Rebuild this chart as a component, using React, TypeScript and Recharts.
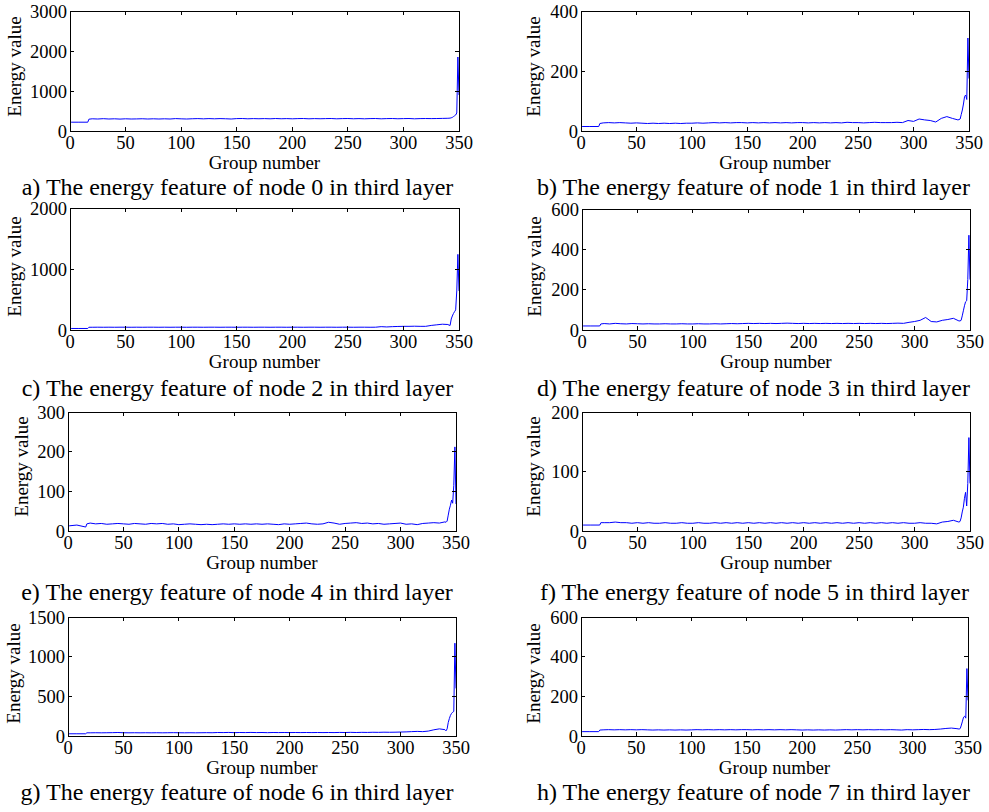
import { LineChart, Line, XAxis, YAxis, ReferenceArea } from 'recharts';

// group numbers sampled along the curves (denser at the tail spike)
const groups = [
  1, 8, 16, 17,
  20, 25, 30, 35, 40, 45, 50, 55, 60, 65, 70, 75, 80,
  85, 90, 95, 100, 105, 110, 115, 120, 125, 130, 135, 140, 145,
  150, 155, 160, 165, 170, 175, 180, 185, 190, 195, 200, 205, 210,
  215, 220, 225, 230, 235, 240, 245, 250, 255, 260, 265, 270, 275,
  280, 285, 290, 295, 300, 305, 310, 315, 320, 325, 330, 335, 340,
  341, 342, 343, 344, 345, 346, 347, 348, 349, 350,
];
const xTicks = [0, 50, 100, 150, 200, 250, 300, 350];

const node0 = [
  220, 220, 220, 295,
  305, 300, 308, 300, 305, 298, 305, 300, 302, 306, 300, 305, 300,
  305, 300, 310, 304, 300, 306, 310, 304, 310, 305, 310, 306, 300,
  310, 312, 305, 310, 306, 310, 305, 312, 306, 310, 305, 310, 312,
  305, 310, 306, 310, 312, 305, 310, 312, 306, 310, 305, 310, 312,
  305, 310, 312, 306, 310, 312, 305, 310, 312, 310, 312, 315, 318,
  320, 322, 330, 340, 360, 380, 400, 450, 1850, 900,
];
const node1 = [
  15, 15, 15, 25,
  27, 28, 27, 28, 27, 26, 27, 26, 25, 26, 25, 26, 25,
  26, 25, 26, 26, 27, 26, 27, 28, 27, 28, 27, 28, 28,
  27, 28, 27, 28, 27, 28, 27, 28, 27, 28, 28, 27, 28,
  27, 28, 27, 28, 27, 29, 28, 28, 27, 28, 29, 28, 28,
  28, 29, 28, 35, 32, 40, 37, 35, 30, 42, 48, 42, 37,
  38, 40, 55, 70, 90, 115, 120, 105, 310, 175,
];
const node2 = [
  25, 25, 25, 45,
  45, 46, 45, 46, 45, 46, 46, 45, 46, 45, 46, 46, 45,
  46, 45, 46, 46, 45, 46, 46, 45, 46, 46, 45, 46, 46,
  45, 46, 46, 45, 46, 46, 45, 46, 46, 45, 46, 46, 45,
  46, 46, 45, 46, 46, 45, 46, 46, 45, 46, 46, 45, 46,
  55, 50, 55, 58, 60, 60, 62, 60, 60, 75, 85, 95, 90,
  80, 75, 180, 230, 270, 300, 330, 640, 1240, 640,
];
const node3 = [
  20, 20, 20, 30,
  32, 30, 33, 31, 30, 32, 31, 30, 31, 30, 30, 31, 30,
  30, 31, 30, 30, 31, 30, 30, 31, 30, 31, 32, 31, 32,
  33, 32, 33, 32, 33, 32, 33, 34, 33, 32, 33, 32, 33,
  32, 33, 32, 33, 32, 33, 32, 33, 32, 33, 32, 33, 32,
  33, 34, 33, 38, 42, 48, 62, 42, 40, 48, 52, 58, 45,
  45, 48, 70, 95, 120, 140, 145, 250, 470, 250,
];
const node4 = [
  13, 15, 10, 18,
  20, 18, 19, 17, 18, 19, 18, 17, 19, 18, 17, 19, 18,
  19, 17, 18, 16, 17, 18, 17, 16, 17, 16, 17, 18, 17,
  18, 17, 18, 17, 18, 17, 18, 17, 16, 18, 17, 18, 19,
  20, 18, 17, 18, 22, 20, 17, 19, 20, 21, 19, 20, 18,
  19, 17, 18, 19, 20, 17, 18, 16, 19, 20, 21, 20, 23,
  22, 25, 40, 55, 65, 78, 70, 115, 212, 68,
];
const node5 = [
  10, 10, 10, 14,
  14, 14, 15, 14, 14, 13, 14, 13, 14, 13, 13, 14, 13,
  13, 14, 13, 13, 14, 13, 13, 14, 13, 14, 13, 14, 13,
  14, 13, 14, 13, 14, 13, 14, 13, 14, 13, 14, 13, 14,
  13, 14, 13, 14, 13, 14, 13, 14, 13, 14, 13, 14, 13,
  14, 13, 14, 13, 13, 14, 13, 13, 12, 15, 16, 18, 15,
  16, 22, 32, 40, 55, 65, 42, 80, 157, 80,
];
const node6 = [
  28, 28, 28, 40,
  40, 41, 40, 41, 42, 44, 41, 40, 41, 40, 41, 40, 41,
  40, 41, 42, 41, 40, 41, 40, 41, 42, 41, 44, 43, 45,
  42, 44, 43, 45, 43, 44, 42, 44, 43, 44, 43, 44, 43,
  44, 43, 44, 43, 44, 43, 45, 44, 46, 44, 46, 45, 47,
  46, 48, 47, 48, 50, 52, 55, 58, 55, 62, 78, 90, 80,
  65, 90, 170, 220, 260, 285, 300, 310, 1170, 600,
];
const node7 = [
  22, 22, 22, 30,
  31, 32, 31, 32, 31, 32, 31, 32, 31, 30, 31, 30, 31,
  30, 31, 30, 31, 32, 31, 32, 31, 32, 31, 32, 31, 32,
  32, 31, 32, 31, 32, 31, 32, 31, 32, 31, 30, 31, 30,
  31, 30, 31, 30, 31, 32, 31, 32, 31, 32, 31, 32, 31,
  32, 31, 30, 32, 31, 32, 33, 32, 33, 35, 38, 40, 37,
  36, 35, 38, 55, 75, 95, 100, 90, 340, 180,
];

const captions = [
  'a) The energy feature of node 0 in third layer',
  'b) The energy feature of node 1 in third layer',
  'c) The energy feature of node 2 in third layer',
  'd) The energy feature of node 3 in third layer',
  'e) The energy feature of node 4 in third layer',
  'f) The energy feature of node 5 in third layer',
  'g) The energy feature of node 6 in third layer',
  'h) The energy feature of node 7 in third layer',
];

const FONT = '"Liberation Serif", "Times New Roman", serif';
const PAD_L = 70;
const PAD_T = 12;
const PAD_R = 20;
const PAD_B = 30;

// plot box [left, top, right, bottom], caption centre/baseline, y-label centre
const panels = [
  { values: node0, yMax: 3000, yTicks: [0, 1000, 2000, 3000], box: [70, 11, 459, 131], capX: 237.5, capBase: 195, labX: 14, labY: 66.5 },
  { values: node1, yMax: 400, yTicks: [0, 200, 400], box: [581, 11, 969, 131], capX: 753.5, capBase: 195, labX: 532.5, labY: 66.5 },
  { values: node2, yMax: 2000, yTicks: [0, 1000, 2000], box: [70, 208, 459, 330], capX: 237.5, capBase: 396, labX: 14, labY: 266.5 },
  { values: node3, yMax: 600, yTicks: [0, 200, 400, 600], box: [582, 209, 970, 330], capX: 753.5, capBase: 396, labX: 533.5, labY: 266.5 },
  { values: node4, yMax: 300, yTicks: [0, 100, 200, 300], box: [68, 412, 456, 531], capX: 237, capBase: 600, labX: 20.5, labY: 466.5 },
  { values: node5, yMax: 200, yTicks: [0, 100, 200], box: [582, 412, 970, 531], capX: 754.5, capBase: 600, labX: 532.5, labY: 466.5 },
  { values: node6, yMax: 1500, yTicks: [0, 500, 1000, 1500], box: [68, 617, 456, 736], capX: 237, capBase: 800, labX: 12.5, labY: 673 },
  { values: node7, yMax: 600, yTicks: [0, 200, 400, 600], box: [581, 617, 968, 736], capX: 753.5, capBase: 800, labX: 532.5, labY: 673 },
];

function Panel({ p, caption }: { p: (typeof panels)[number]; caption: string }) {
  const [l, t, r, b] = p.box;
  const pw = r - l;
  const ph = b - t;
  const top = PAD_T;
  const bottom = PAD_T + ph;
  const left = PAD_L;
  const right = PAD_L + pw;
  const rows = groups.map((g, i) => ({ g, v: p.values[i] }));

  const xTick = (props: any) => {
    const { x, y, payload } = props;
    return (
      <g>
        <line x1={x} x2={x} y1={bottom} y2={bottom - 4} stroke="#000" shapeRendering="crispEdges" />
        <line x1={x} x2={x} y1={top} y2={top + 4} stroke="#000" shapeRendering="crispEdges" />
        <text x={x} y={y} dy="0.71em" textAnchor="middle" fontSize={18.5} fontFamily={FONT} fill="#000">
          {payload.value}
        </text>
      </g>
    );
  };
  const yTick = (props: any) => {
    const { x, y, payload } = props;
    return (
      <g>
        <line x1={left} x2={left + 4} y1={y} y2={y} stroke="#000" shapeRendering="crispEdges" />
        <line x1={right} x2={right - 4} y1={y} y2={y} stroke="#000" shapeRendering="crispEdges" />
        <text x={x} y={y} dy="0.355em" textAnchor="end" fontSize={18.5} fontFamily={FONT} fill="#000">
          {payload.value}
        </text>
      </g>
    );
  };

  return (
    <>
      <div style={{ position: 'absolute', left: l - PAD_L, top: t - PAD_T }}>
        <LineChart
          width={pw + PAD_L + PAD_R}
          height={ph + PAD_T + PAD_B}
          data={rows}
          margin={{ top: PAD_T, right: PAD_R, bottom: PAD_B - 20, left: PAD_L - 60 }}
        >
          <XAxis
            dataKey="g"
            type="number"
            domain={[0, 350]}
            ticks={xTicks}
            interval={0}
            height={20}
            tickSize={0}
            tickMargin={5}
            axisLine={false}
            tickLine={false}
            tick={xTick}
            allowDataOverflow
          />
          <YAxis
            type="number"
            domain={[0, p.yMax]}
            ticks={p.yTicks}
            interval={0}
            width={60}
            tickSize={0}
            tickMargin={3}
            axisLine={false}
            tickLine={false}
            tick={yTick}
            allowDataOverflow
          />
          <ReferenceArea x1={0} x2={350} y1={0} y2={p.yMax} fill="none" fillOpacity={0} stroke="#000" strokeWidth={1} shapeRendering="crispEdges" />
          <Line dataKey="v" type="linear" stroke="#0000ff" strokeWidth={1} dot={false} isAnimationActive={false} />
        </LineChart>
      </div>
      <div
        style={{
          position: 'absolute',
          left: (l + r) / 2 - 100,
          width: 200,
          top: b + 38 - 0.8375 * 19,
          fontSize: 19,
          lineHeight: '19px',
          textAlign: 'center',
          fontFamily: FONT,
          whiteSpace: 'nowrap',
        }}
      >
        Group number
      </div>
      <div
        style={{
          position: 'absolute',
          left: p.labX - 100,
          width: 200,
          top: p.labY - 9.5,
          height: 19,
          fontSize: 19,
          lineHeight: '19px',
          textAlign: 'center',
          fontFamily: FONT,
          whiteSpace: 'nowrap',
          transform: 'rotate(-90deg)',
        }}
      >
        Energy value
      </div>
      <div
        style={{
          position: 'absolute',
          left: p.capX - 300,
          width: 600,
          top: p.capBase - 0.8375 * 24,
          fontSize: 24,
          lineHeight: '24px',
          textAlign: 'center',
          fontFamily: FONT,
          whiteSpace: 'nowrap',
        }}
      >
        {caption}
      </div>
    </>
  );
}

export default function App() {
  return (
    <div style={{ position: 'absolute', left: 0, top: 0, width: 989, height: 812, background: '#fff', overflow: 'hidden' }}>
      {panels.map((p, i) => (
        <Panel key={i} p={p} caption={captions[i]} />
      ))}
    </div>
  );
}
